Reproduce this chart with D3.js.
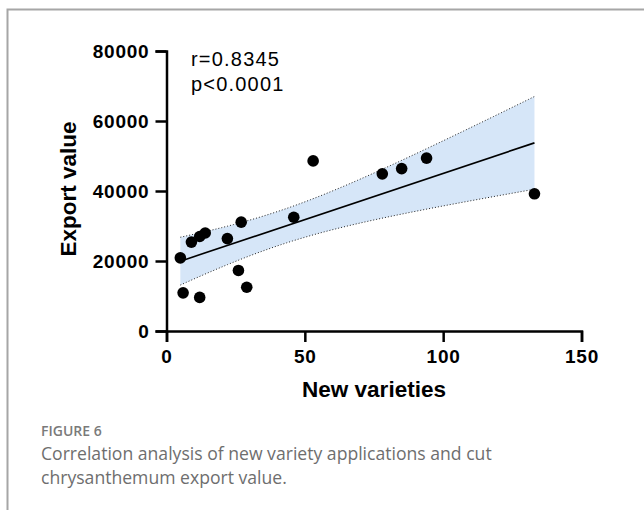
<!DOCTYPE html>
<html>
<head>
<meta charset="utf-8">
<script src="https://cdn.jsdelivr.net/npm/d3@7"></script>
<style>
  body { margin: 0; background: #fff; }
  svg { display: block; }
</style>
</head>
<body>
<div id="chart"></div>
<script>
// values
const newVarieties = [5, 6, 9, 12, 14, 12, 22, 26, 27, 29, 46, 53, 78, 85, 94, 133];
const exportValue = [20900, 10900, 25400, 27000, 28000, 9600, 26400, 17300, 31100, 12500, 32500, 48600, 44900, 46400, 49400, 39200];
const xTicks = [0, 50, 100, 150];
const xMinorTicks = d3.range(0, 151, 5);
const yTicks = [0, 20000, 40000, 60000, 80000];
const statLines = ["r=0.8345", "p<0.0001"];
const captionTitle = "FIGURE 6";
const captionLines = ["Correlation analysis of new variety applications and cut", "chrysanthemum export value."];
const tCrit = 2.145; // t(0.975, df=14)

let svg = d3.select("#chart").append("svg")
    .attr("width", 644)
    .attr("height", 510);

// frame (top + left border of the figure box)
svg.append("path")
    .attr("d", "M7.5,510 V9.5 H644")
    .attr("fill", "none")
    .attr("stroke", "#a6a6a6")
    .attr("stroke-width", 2);

let xScale = d3.scaleLinear().domain([0, 150]).range([166.5, 581.5]);
let yScale = d3.scaleLinear().domain([0, 80000]).range([331, 51]);

// linear fit + 95% confidence band
let data = newVarieties.map((x, i) => ({ x: x, y: exportValue[i] }));
let n = data.length;
let mx = d3.mean(newVarieties), my = d3.mean(exportValue);
let sxx = d3.sum(newVarieties, x => (x - mx) * (x - mx));
let sxy = d3.sum(data, d => (d.x - mx) * (d.y - my));
let slope = sxy / sxx;
let intercept = my - slope * mx;
let sse = d3.sum(data, d => Math.pow(d.y - (intercept + slope * d.x), 2));
let s = Math.sqrt(sse / (n - 2));
let xMin = d3.min(newVarieties), xMax = d3.max(newVarieties);

let band = d3.range(0, 61).map(i => {
    let x = xMin + (xMax - xMin) * i / 60;
    let fit = intercept + slope * x;
    let half = tCrit * s * Math.sqrt(1 / n + (x - mx) * (x - mx) / sxx);
    return { x: x, lo: fit - half, hi: fit + half };
});

svg.append("path")
    .datum(band)
    .attr("fill", "#d6e6f8")
    .attr("d", d3.area()
        .x(d => xScale(d.x))
        .y0(d => yScale(d.lo))
        .y1(d => yScale(d.hi)));

["lo", "hi"].forEach(k => {
    svg.append("path")
        .datum(band)
        .attr("fill", "none")
        .attr("stroke", "#222")
        .attr("stroke-width", 1)
        .attr("stroke-dasharray", "1,2")
        .attr("d", d3.line()
            .x(d => xScale(d.x))
            .y(d => yScale(d[k])));
});

svg.append("line")
    .attr("x1", xScale(xMin))
    .attr("y1", yScale(intercept + slope * xMin))
    .attr("x2", xScale(xMax))
    .attr("y2", yScale(intercept + slope * xMax))
    .attr("stroke", "#000")
    .attr("stroke-width", 1.6);

// points
svg.selectAll(".dot")
    .data(data)
    .enter().append("circle")
    .attr("class", "dot")
    .attr("cx", d => xScale(d.x))
    .attr("cy", d => yScale(d.y))
    .attr("r", 5.8)
    .attr("fill", "#000");

let tickFont = "bold 19px 'Liberation Sans', Arial, sans-serif";

// X axis
let xAxisG = svg.append("g")
    .attr("transform", "translate(0," + yScale(0) + ")");
xAxisG.call(d3.axisBottom(xScale).tickValues(xMinorTicks).tickSize(6).tickFormat(""));
xAxisG.call(d3.axisBottom(xScale).tickValues(xTicks).tickSize(11).tickPadding(8).tickFormat(d3.format("d")));
xAxisG.selectAll("path, line").attr("stroke", "#000").attr("stroke-width", 2.5);
xAxisG.selectAll("text")
    .attr("fill", "#000")
    .style("font", tickFont)
    .style("letter-spacing", "0.8px");

// Y axis
let yAxisG = svg.append("g")
    .attr("transform", "translate(" + xScale(0) + ",0)");
yAxisG.call(d3.axisLeft(yScale).tickValues(yTicks).tickSize(11).tickPadding(6).tickFormat(d3.format("d")));
yAxisG.selectAll("path, line").attr("stroke", "#000").attr("stroke-width", 2.5);
yAxisG.selectAll("text")
    .attr("fill", "#000")
    .style("font", tickFont)
    .style("letter-spacing", "0.8px");

// axis titles
svg.append("text")
    .attr("x", 374)
    .attr("y", 397)
    .attr("text-anchor", "middle")
    .style("font", "bold 22.5px 'Liberation Sans', Arial, sans-serif")
    .text("New varieties");

svg.append("text")
    .attr("transform", "translate(76,189) rotate(-90)")
    .attr("text-anchor", "middle")
    .style("font", "bold 22.5px 'Liberation Sans', Arial, sans-serif")
    .text("Export value");

// stats annotation
svg.selectAll(".stat")
    .data(statLines)
    .enter().append("text")
    .attr("class", "stat")
    .attr("x", 191)
    .attr("y", (d, i) => 66 + i * 24.5)
    .style("font", "20px 'Liberation Sans', Arial, sans-serif")
    .style("letter-spacing", "1.2px")
    .text(d => d);

// caption
svg.append("text")
    .attr("x", 41)
    .attr("y", 436)
    .attr("fill", "#7a7a7a")
    .style("font", "600 14px 'Open Sans', sans-serif")
    .text(captionTitle);

svg.selectAll(".cap")
    .data(captionLines)
    .enter().append("text")
    .attr("class", "cap")
    .attr("x", 41)
    .attr("y", (d, i) => 460 + i * 23.5)
    .attr("fill", "#6e6e6e")
    .style("font", "17.6px 'Open Sans', sans-serif")
    .text(d => d);
</script>
</body>
</html>
